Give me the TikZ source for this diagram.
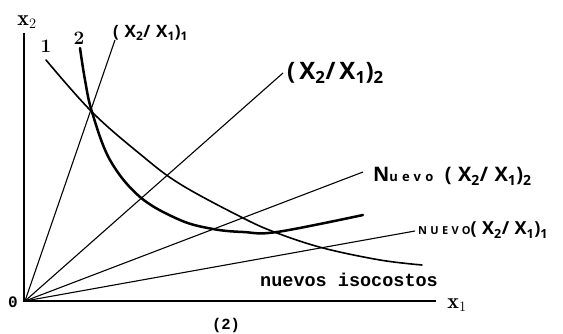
\documentclass[tikz,border=0pt]{standalone}
\usepackage{fontspec}
\newfontfamily\hand{Open Sans}
\newfontfamily\typed{Liberation Mono}
\usetikzlibrary{positioning}

\begin{document}
\begin{tikzpicture}[
    x=1pt, y=-1pt,
    node distance=2pt,
    axis/.style={line width=1.5pt},
    ray/.style={line width=1.1pt},
    iso/.style={line width=1.6pt, line cap=round},
    isonew/.style={line width=2.5pt, line cap=round},
    hand/.style={inner sep=0pt, anchor=base west},
    typed/.style={inner sep=0pt},
    axlbl/.style={font=\fontsize{22}{22}\selectfont, inner sep=0pt}
]
\useasboundingbox (0,0) rectangle (563,334);

\coordinate (O) at (25,301);
\coordinate (ytop) at (24,33);
\coordinate (xend) at (436,301);
\draw[axis] (ytop) -- (24,301) -- (xend);

\node[axlbl] (x2) at (27,22) {$\mathbf{x}_2$};
\node[axlbl] (x1) at (457,305) {$\mathbf{x}_1$};
\node[typed, font=\typed\bfseries\fontsize{16}{16}\selectfont] (zero) at (13,302) {0};

\coordinate (r1) at (115,40);
\coordinate (r2) at (283,73);
\coordinate (r3) at (363,172);
\coordinate (r4) at (415,231);
\draw[ray] (O) -- (r1);
\draw[ray] (O) -- (r2);
\draw[ray] (O) -- (r3);
\draw[ray] (O) -- (r4);

\node[hand, font={\hand\bfseries\addfontfeature{LetterSpace=34}\fontsize{17}{17}\selectfont}] (l1) at (113,38)
    {(X\textsubscript{2}/X\textsubscript{1})\textsubscript{1}};
\node[hand, font={\hand\bfseries\addfontfeature{LetterSpace=17}\fontsize{24}{24}\selectfont}] (l2) at (287,80)
    {(X\textsubscript{2}/X\textsubscript{1})\textsubscript{2}};
\node[hand, font={\hand\bfseries\addfontfeature{LetterSpace=32}\fontsize{20}{20}\selectfont}] (l3) at (373,182)
    {N{\fontsize{13}{13}\selectfont uevo} (X\textsubscript{2}/X\textsubscript{1})\textsubscript{2}};
\node[hand, font={\hand\bfseries\addfontfeature{LetterSpace=30}\fontsize{18}{18}\selectfont}] (l4) at (418,235)
    {{\fontsize{11}{11}\selectfont NUEVO}(X\textsubscript{2}/X\textsubscript{1})\textsubscript{1}};

\coordinate (c1s) at (46,60);
\coordinate (c2s) at (80,48);
\coordinate (c1e) at (422,265);
\coordinate (c2e) at (363,215);
\draw[iso] plot[smooth, tension=0.6] coordinates {(c1s) (92,112) (140,154) (180,184) (243,218) (277,233) (323,248) (380,260) (c1e)};
\draw[isonew] plot[smooth, tension=0.6] coordinates {(c2s) (85,80) (92,112) (110,160) (140,197) (180,220) (213,229) (243,232) (277,232) (c2e)};

\node[font=\bfseries\fontsize{19}{19}\selectfont, inner sep=0pt] (n1) at (46,46) {1};
\node[font=\bfseries\fontsize{19}{19}\selectfont, inner sep=0pt] (n2) at (79,38) {2};

\node[typed, font=\typed\bfseries\fontsize{18.5}{18.5}\selectfont, anchor=base west] (iso) at (260,287) {nuevos isocostos};
\node[typed, font=\typed\bfseries\fontsize{15.5}{15.5}\selectfont] (fig) at (226,325) {(2)};
\end{tikzpicture}
\end{document}
